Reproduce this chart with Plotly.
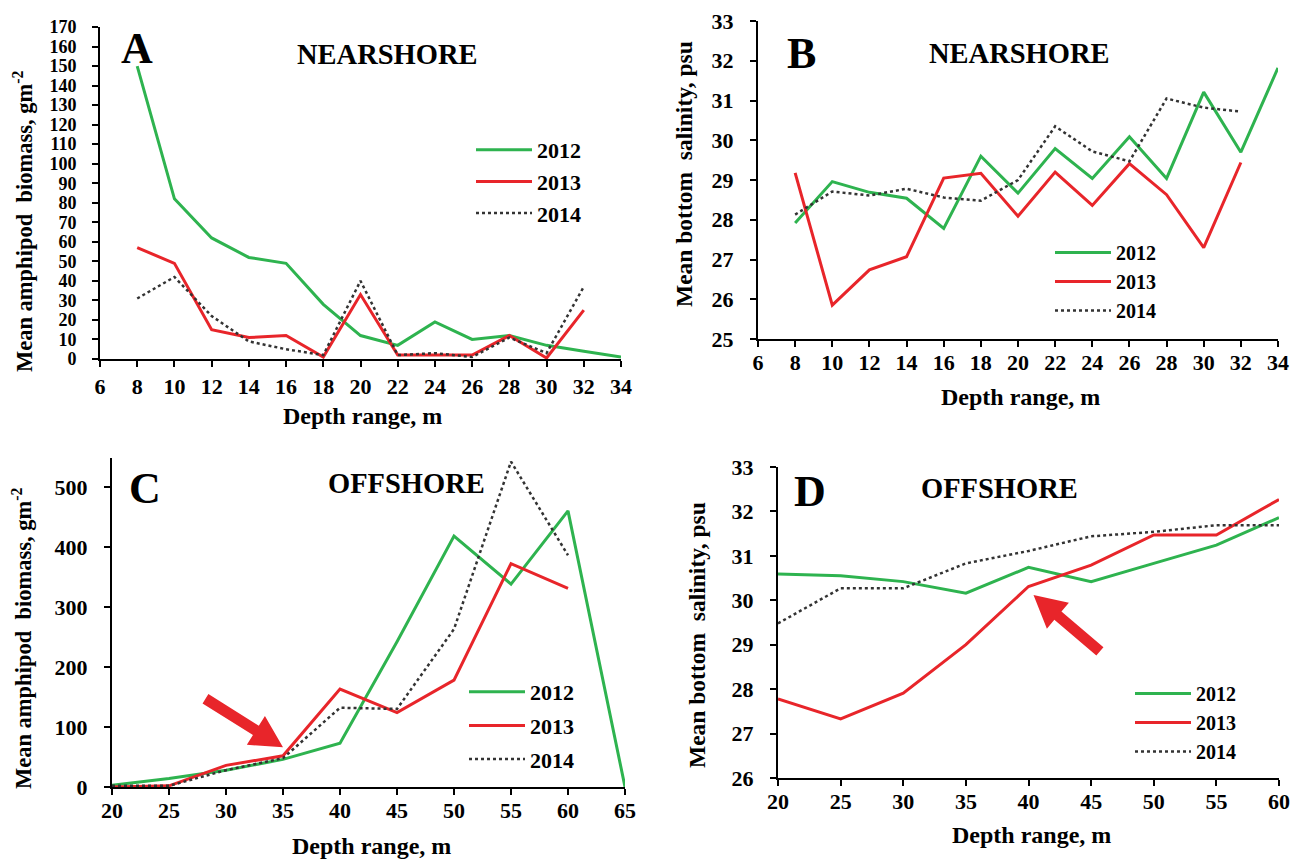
import math
import plotly.graph_objects as go

# ---------------- data ----------------
depth_near = [8, 10, 12, 14, 16, 18, 20, 22, 24, 26, 28, 30, 32, 34]
depth_near_13 = [8, 10, 12, 14, 16, 18, 20, 22, 24, 26, 28, 30, 32]
depth_off = [20, 25, 30, 35, 40, 45, 50, 55, 60, 65]
depth_off_13 = [20, 25, 30, 35, 40, 45, 50, 55, 60]
depth_off_sal = [20, 25, 30, 35, 40, 45, 50, 55, 60]

biomass_near_2012 = [150, 82, 62, 52, 49, 28, 12, 7, 19, 10, 12, 7, 4, 1]
biomass_near_2013 = [57, 49, 15, 11, 12, 1, 33, 2, 2, 2, 12, 0.5, 25]
biomass_near_2014 = [31, 42, 22, 9, 5, 2, 40, 2, 3, 1, 11, 3, 37]

sal_near_2012 = [27.92, 28.96, 28.69, 28.54, 27.78, 29.6, 28.67, 29.79, 29.04, 30.09, 29.04, 31.21, 29.7, 31.82]
sal_near_2013 = [29.18, 25.85, 26.74, 27.07, 29.05, 29.17, 28.09, 29.2, 28.36, 29.41, 28.63, 27.3, 29.44]
sal_near_2014 = [28.13, 28.71, 28.61, 28.78, 28.56, 28.48, 29.0, 30.35, 29.72, 29.47, 31.05, 30.82, 30.72]

biomass_off_2012 = [3, 14, 28, 46, 73, 242, 418, 338, 460, 0]
biomass_off_2013 = [0, 2, 36, 52, 163, 124, 178, 372, 331]
biomass_off_2014 = [2, 2, 28, 48, 132, 130, 263, 542, 386]

sal_off_2012 = [30.59, 30.55, 30.42, 30.16, 30.74, 30.42, 30.83, 31.24, 31.86]
sal_off_2013 = [27.78, 27.33, 27.91, 29.0, 30.31, 30.79, 31.47, 31.47, 32.27]
sal_off_2014 = [29.48, 30.27, 30.27, 30.83, 31.11, 31.44, 31.54, 31.69, 31.69]

years = ["2012", "2013", "2014"]

# ---------------- style ----------------
GREEN = "#2eb34f"
RED = "#e8252a"
DOT = "#333333"
FONT = "Liberation Serif"
OFF = 8                      # page body margin of the html page
W, H = 1298 - OFF, 860 - OFF
NB = "\u00a0"

styles = {
    "2012": dict(color=GREEN, width=3, dash="solid"),
    "2013": dict(color=RED, width=3, dash="solid"),
    "2014": dict(color=DOT, width=2.5, dash="dot"),
}

# helpers: page pixel -> paper fraction
def px_x(p):
    return (p - OFF) / W

def px_y(p):
    return 1 - (p - OFF) / H

# axis geometry in page pixels: (left, right, top, bottom), ranges
geom = {
    "1": dict(px=(100, 621, 27, 359), xr=[6, 34], yr=[0, 170]),
    "2": dict(px=(758, 1278, 21, 339), xr=[6, 34], yr=[25, 33]),
    "3": dict(px=(112, 625, 458, 787), xr=[20, 65], yr=[0, 548]),
    "4": dict(px=(778, 1279, 467, 778), xr=[20, 60], yr=[26, 33]),
}

fig = go.Figure()

panels = [
    ("x", "y", "legend", [(depth_near, biomass_near_2012), (depth_near_13, biomass_near_2013), (depth_near_13, biomass_near_2014)]),
    ("x2", "y2", "legend2", [(depth_near, sal_near_2012), (depth_near_13, sal_near_2013), (depth_near_13, sal_near_2014)]),
    ("x3", "y3", "legend3", [(depth_off, biomass_off_2012), (depth_off_13, biomass_off_2013), (depth_off_13, biomass_off_2014)]),
    ("x4", "y4", "legend4", [(depth_off_sal, sal_off_2012), (depth_off_sal, sal_off_2013), (depth_off_sal, sal_off_2014)]),
]

for xa, ya, lg, series in panels:
    for yr, (xs, ys) in zip(years, series):
        fig.add_trace(go.Scatter(x=xs, y=ys, mode="lines", name=yr, line=styles[yr],
                                 xaxis=xa, yaxis=ya, legend=lg, legendgroup=lg + yr,
                                 showlegend=True))

def tfont(size):
    return dict(family=FONT, size=size, color="black", weight="bold")

def xaxis(g, dtick, anchor, standoff):
    l, r, t, b = g["px"]
    return dict(domain=[px_x(l), px_x(r)], range=g["xr"], dtick=dtick, tick0=g["xr"][0],
                anchor=anchor, automargin=False, ticklabeloverflow="allow",
                showline=True, linecolor="black", linewidth=2, ticks="outside",
                ticklen=6, tickwidth=2, tickcolor="black", showgrid=False, zeroline=False,
                tickfont=tfont(22), ticklabelstandoff=standoff)

def yaxis(g, dtick, anchor, size=22):
    l, r, t, b = g["px"]
    return dict(domain=[px_y(b), px_y(t)], range=g["yr"], dtick=dtick, anchor=anchor,
                automargin=False, ticklabeloverflow="allow",
                showline=True, linecolor="black", linewidth=2, ticks="outside",
                ticklen=6, tickwidth=2, tickcolor="black", showgrid=False, zeroline=False,
                tickfont=tfont(size), ticklabelstandoff=12)

fig.update_layout(
    width=W, height=H, margin=dict(l=0, r=0, t=0, b=0, autoexpand=False),
    paper_bgcolor="white", plot_bgcolor="white",
    font=dict(family=FONT, color="black"),
    xaxis=xaxis(geom["1"], 2, "y", 1),
    yaxis=yaxis(geom["1"], 10, "x", 18),
    xaxis2=xaxis(geom["2"], 2, "y2", -3),
    yaxis2=yaxis(geom["2"], 1, "x2"),
    xaxis3=xaxis(geom["3"], 5, "y3", -3),
    yaxis3=yaxis(geom["3"], 100, "x3"),
    xaxis4=xaxis(geom["4"], 5, "y4", -3),
    yaxis4=yaxis(geom["4"], 1, "x4"),
)

def legend(x, y, size, gap):
    return dict(x=px_x(x), y=px_y(y), xref="paper", yref="paper", xanchor="left", yanchor="top",
                bgcolor="rgba(0,0,0,0)", font=tfont(size),
                itemwidth=56, tracegroupgap=gap, traceorder="grouped")

fig.update_layout(
    legend=legend(471, 129, 22, 0),
    legend2=legend(1050, 233, 20, 0),
    legend3=legend(464, 671, 22, 2),
    legend4=legend(1130, 674, 20, 0),
)

def text(t, x, y, size, angle=0):
    fig.add_annotation(text=t, x=px_x(x), y=px_y(y), xref="paper", yref="paper",
                       showarrow=False, textangle=angle, xanchor="center", yanchor="middle",
                       font=tfont(size))

# panel letters and region labels
for t, x, y in [("A", 137, 49), ("B", 801, 53), ("C", 145, 488), ("D", 810, 491)]:
    text(t, x, y, 44)
for t, x, y in [("NEARSHORE", 387, 54), ("NEARSHORE", 1019, 53), ("OFFSHORE", 406, 484), ("OFFSHORE", 999, 488)]:
    text(t, x, y, 28.5)

# axis titles
bio_title = "Mean amphipod" + NB + " biomass, gm<sup>-2</sup>"
sal_title = "Mean bottom" + NB + " salinity, psu"
text(bio_title, 23, 222, 22.5, -90)
text(sal_title, 684, 174, 23.5, -90)
text(bio_title, 22, 639, 22.5, -90)
text(sal_title, 697, 635, 23.5, -90)
xt = "Depth range, m"
text(xt, 362, 416, 24)
text(xt, 1020, 397, 24)
text(xt, 371, 846, 24)
text(xt, 1031, 835, 24)

# red arrows (filled polygons, end points given in data units of the panel)
def data_to_px(g, x, y):
    l, r, t, b = g["px"]
    px = l + (x - g["xr"][0]) / (g["xr"][1] - g["xr"][0]) * (r - l)
    py = b - (y - g["yr"][0]) / (g["yr"][1] - g["yr"][0]) * (b - t)
    return px, py

def arrow(g, tail, tip, shaft=11, head_len=32, head_half=17):
    tx, ty = data_to_px(g, *tail)
    hx, hy = data_to_px(g, *tip)
    dx, dy = hx - tx, hy - ty
    L = math.hypot(dx, dy)
    ux, uy = dx / L, dy / L
    nx, ny = -uy, ux
    bx, by = hx - ux * head_len, hy - uy * head_len
    s = shaft / 2
    pts = [
        (tx + nx * s, ty + ny * s), (bx + nx * s, by + ny * s), (bx + nx * head_half, by + ny * head_half),
        (hx, hy), (bx - nx * head_half, by - ny * head_half), (bx - nx * s, by - ny * s),
        (tx - nx * s, ty - ny * s),
    ]
    path = "M " + " L ".join(f"{px_x(p[0]):.5f},{px_y(p[1]):.5f}" for p in pts) + " Z"
    fig.add_shape(type="path", path=path, xref="paper", yref="paper",
                  fillcolor=RED, line=dict(width=0), layer="above")

arrow(geom["3"], (28.2, 147), (35.0, 66))
arrow(geom["4"], (45.7, 28.85), (40.4, 30.12))

fig.write_html("out.html")
